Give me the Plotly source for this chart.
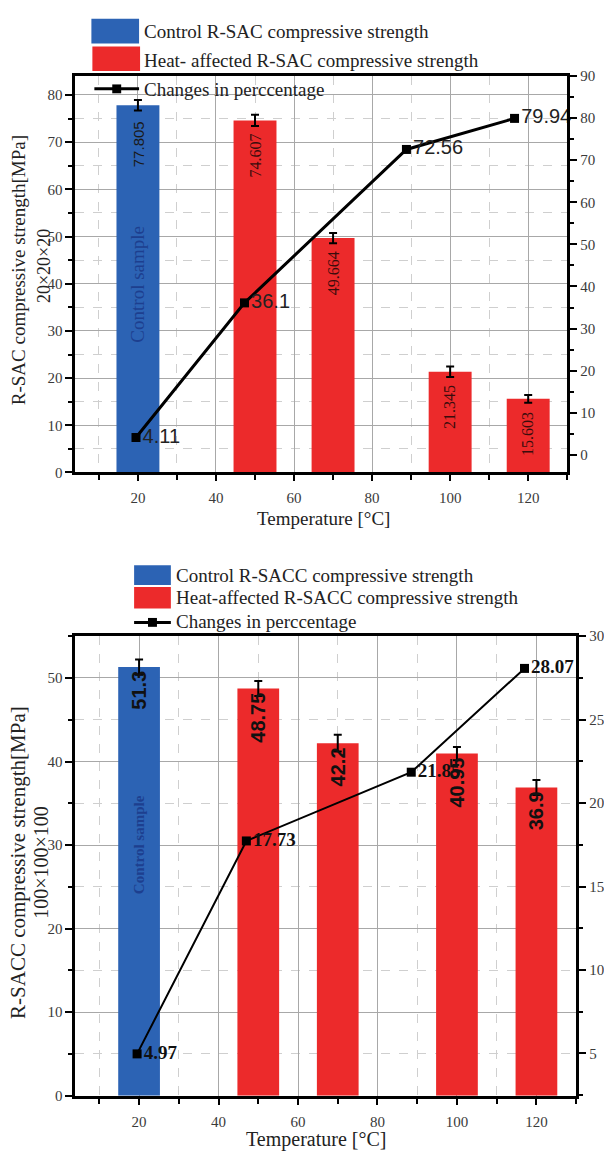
import plotly.graph_objects as go

W, H = 604, 1158

# ---------------- data ----------------
temps = [20, 50, 70, 100, 120]

# top chart (R-SAC, 20x20x20)
sac_strength = [77.805, 74.607, 49.664, 21.345, 15.603]
sac_err = [1.1, 1.2, 1.1, 1.1, 0.8]
sac_labels = ["77.805", "74.607", "49.664", "21.345", "15.603"]
sac_change_x = [19.5, 47.3, 88.8, 116.5]
sac_change = [4.11, 36.1, 72.56, 79.94]
sac_change_labels = ["4.11", "36.1", "72.56", "79.94"]

# bottom chart (R-SACC, 100x100x100)
sacc_strength = [51.3, 48.75, 42.2, 40.95, 36.9]
sacc_err = [0.9, 0.9, 1.0, 0.8, 0.9]
sacc_labels = ["51.3", "48.75", "42.2", "40.95", "36.9"]
sacc_change_x = [19.5, 47.0, 88.5, 117.0]
sacc_change = [4.97, 17.73, 21.85, 28.07]
sacc_change_labels = ["4.97", "17.73", "21.85", "28.07"]

x_tick_vals = [20, 40, 60, 80, 100, 120]

BLUE = "#2c63b4"
RED = "#ec2a2b"
SERIF = "Liberation Serif, Times New Roman, serif"
SANS = "Liberation Sans, Arial, sans-serif"


def px(x):
    return x / W


def py(y):
    return 1 - y / H


fig = go.Figure()

# ---------------- top chart traces ----------------
fig.add_trace(go.Bar(
    x=temps[:1], y=sac_strength[:1], width=11, marker=dict(color=BLUE, line=dict(width=0)),
    error_y=dict(type="data", array=sac_err[:1], color="black", thickness=2, width=4),
    xaxis="x", yaxis="y", showlegend=False, hoverinfo="skip"))
fig.add_trace(go.Bar(
    x=temps[1:], y=sac_strength[1:], width=11, marker=dict(color=RED, line=dict(width=0)),
    error_y=dict(type="data", array=sac_err[1:], color="black", thickness=2, width=4),
    xaxis="x", yaxis="y", showlegend=False, hoverinfo="skip"))
fig.add_trace(go.Scatter(
    x=sac_change_x, y=sac_change, mode="lines+markers+text",
    text=sac_change_labels, textposition="middle right",
    textfont=dict(family=SANS, size=20, color="#222222"),
    line=dict(color="black", width=3),
    marker=dict(symbol="square", size=9, color="black"),
    xaxis="x", yaxis="y2", showlegend=False, cliponaxis=False))

# ---------------- bottom chart traces ----------------
fig.add_trace(go.Bar(
    x=temps[:1], y=sacc_strength[:1], width=10.5, marker=dict(color=BLUE, line=dict(width=0)),
    error_y=dict(type="data", array=sacc_err[:1], color="black", thickness=2, width=4),
    xaxis="x2", yaxis="y3", showlegend=False, hoverinfo="skip"))
fig.add_trace(go.Bar(
    x=temps[1:], y=sacc_strength[1:], width=10.5, marker=dict(color=RED, line=dict(width=0)),
    error_y=dict(type="data", array=sacc_err[1:], color="black", thickness=2, width=4),
    xaxis="x2", yaxis="y3", showlegend=False, hoverinfo="skip"))
fig.add_trace(go.Scatter(
    x=sacc_change_x, y=sacc_change, mode="lines+markers+text",
    text=sacc_change_labels, textposition="middle right",
    textfont=dict(family=SERIF, size=19, color="#111111", weight="bold"),
    line=dict(color="black", width=2),
    marker=dict(symbol="square", size=9, color="black"),
    xaxis="x2", yaxis="y4", showlegend=False, cliponaxis=False))

# ---------------- axes ----------------
tickfont = dict(family=SERIF, size=15, color="#3a3a3a")
GRID = "#a8a8a8"
MINGRID = "#cfcfcf"


def xax(domain, anchor):
    return dict(domain=domain, anchor=anchor, range=[4, 130],
                tickvals=x_tick_vals, ticks="outside", ticklen=6, tickwidth=2,
                tickcolor="black", tickfont=tickfont, ticklabelstandoff=4,
                showgrid=True, gridcolor=GRID, gridwidth=1,
                minor=dict(dtick=10, tick0=0, ticks="outside", ticklen=5, tickwidth=2,
                           tickcolor="black", showgrid=True, gridcolor=MINGRID,
                           griddash="dash", gridwidth=1),
                showline=True, linecolor="black", linewidth=3, mirror=True,
                zeroline=False, fixedrange=True)


def xtop(overlay):
    return dict(overlaying=overlay, side="top", range=[4, 130], tickmode="linear",
                tick0=0, dtick=10, ticks="inside", ticklen=6, tickwidth=2,
                tickcolor="black", showticklabels=False, showgrid=False,
                showline=False, zeroline=False, fixedrange=True)


def yleft(domain, anchor, rng, dtick, minor):
    return dict(domain=domain, anchor=anchor, range=rng, tickmode="linear", tick0=0,
                dtick=dtick, ticks="outside", ticklen=7, tickwidth=2, tickcolor="black",
                tickfont=tickfont, showgrid=True, gridcolor=GRID, gridwidth=1,
                minor=dict(dtick=minor, tick0=0, ticks="outside", ticklen=4, tickwidth=2,
                           tickcolor="black", showgrid=True, gridcolor=MINGRID,
                           griddash="dash", gridwidth=1),
                showline=True, linecolor="black", linewidth=3, mirror=True,
                zeroline=False, fixedrange=True)


def yright(overlay, anchor, rng, dtick, minor):
    return dict(overlaying=overlay, anchor=anchor, side="right", range=rng,
                tickmode="linear", tick0=0, dtick=dtick, ticks="outside", ticklen=7,
                tickwidth=2, tickcolor="black", tickfont=tickfont, showgrid=False,
                minor=dict(dtick=minor, tick0=0, ticks="outside", ticklen=4,
                           tickwidth=2, tickcolor="black", showgrid=False),
                showline=True, linecolor="black", linewidth=3, zeroline=False,
                fixedrange=True)


top_x_dom = [px(76), px(571)]
top_y_dom = [py(471), py(69)]
bot_x_dom = [px(76), px(580)]
bot_y_dom = [py(1103), py(637)]

annotations = []


def ann(text, x, y, size, family=SERIF, color="#222222", angle=0, xanchor="center",
        yanchor="middle", bold=False):
    annotations.append(dict(text=text, x=px(x), y=py(y), xref="paper", yref="paper",
                            showarrow=False, textangle=angle, xanchor=xanchor,
                            yanchor=yanchor,
                            font=dict(family=family, size=size, color=color,
                                      weight="bold" if bold else "normal")))


# axis titles
ann("R-SAC compressive strength[MPa]", 18, 266, 19, angle=-90)
ann("20×20×20", 45, 262, 18, angle=-90)
ann("Temperature [°C]", 326, 518, 19)
ann("R-SACC compressive strength[MPa]", 18, 866, 21, angle=-90)
ann("100×100×100", 41, 866, 20, angle=-90)
ann("Temperature [°C]", 318, 1147, 20)

# legends (drawn)
ann("Control R-SAC compressive strength", 143, 24, 19, xanchor="left")
ann("Heat- affected R-SAC compressive strength", 143, 53, 19, xanchor="left")
ann("Changes in perccentage", 143, 83, 19, xanchor="left")
ann("Control R-SACC compressive strength", 175, 575, 19, xanchor="left")
ann("Heat-affected R-SACC compressive strength", 175, 598, 19, xanchor="left")
ann("Changes in perccentage", 175, 622, 19, xanchor="left")

shapes = [
    dict(type="rect", xref="paper", yref="paper", x0=px(92), x1=px(140), y0=py(36), y1=py(11),
         fillcolor=BLUE, line=dict(width=0)),
    dict(type="rect", xref="paper", yref="paper", x0=px(93), x1=px(141), y0=py(64), y1=py(39),
         fillcolor=RED, line=dict(width=0)),
    dict(type="line", xref="paper", yref="paper", x0=px(95), x1=px(140), y0=py(82), y1=py(82),
         line=dict(color="black", width=3)),
    dict(type="rect", xref="paper", yref="paper", x0=px(113), x1=px(122), y0=py(86.5), y1=py(77.5),
         fillcolor="black", line=dict(width=0)),
    dict(type="rect", xref="paper", yref="paper", x0=px(135), x1=px(172), y0=py(585), y1=py(565),
         fillcolor=BLUE, line=dict(width=0)),
    dict(type="rect", xref="paper", yref="paper", x0=px(135), x1=px(172), y0=py(609), y1=py(587),
         fillcolor=RED, line=dict(width=0)),
    dict(type="line", xref="paper", yref="paper", x0=px(135), x1=px(172), y0=py(623), y1=py(623),
         line=dict(color="black", width=3)),
    dict(type="rect", xref="paper", yref="paper", x0=px(149), x1=px(158), y0=py(627.5), y1=py(618.5),
         fillcolor="black", line=dict(width=0)),
]

# bar value labels (data coordinates)
for i, (t, v, lab) in enumerate(zip(temps, sac_strength, sac_labels)):
    if i == 0:
        f = dict(family=SANS, size=15, color="#1a1a1a")
        shift = -14
    else:
        f = dict(family=SERIF, size=16, color="#3a0c0c")
        shift = -11
    annotations.append(dict(text=lab, x=t, y=v, xref="x", yref="y", showarrow=False,
                            textangle=-90, xanchor="center", yanchor="top", yshift=shift,
                            font=f))
annotations.append(dict(text="Control sample", x=temps[0], y=40, xref="x", yref="y",
                        showarrow=False, textangle=-90,
                        font=dict(family=SERIF, size=19, color="#1d3f8f")))

for t, v, lab in zip(temps, sacc_strength, sacc_labels):
    annotations.append(dict(text=lab, x=t, y=v, xref="x2", yref="y3", showarrow=False,
                            textangle=-90, xanchor="center", yanchor="top", yshift=-2,
                            font=dict(family=SANS, size=20, color="#111111", weight="bold")))
annotations.append(dict(text="Control sample", x=temps[0], y=30, xref="x2", yref="y3",
                        showarrow=False, textangle=-90,
                        font=dict(family=SERIF, size=15, color="#1d3f8f", weight="bold")))

fig.update_layout(
    width=W, height=H, margin=dict(l=0, r=0, t=0, b=0),
    paper_bgcolor="white", plot_bgcolor="white",
    barmode="overlay", showlegend=False,
    xaxis=xax(top_x_dom, "y"),
    yaxis=yleft(top_y_dom, "x", [0, 84], 10, 5),
    yaxis2=yright("y", "x", [-4.2, 90], 10, 5),
    xaxis3=xtop("x"),
    xaxis2=xax(bot_x_dom, "y3"),
    yaxis3=yleft(bot_y_dom, "x2", [0, 55], 10, 5),
    yaxis4=yright("y3", "x2", [2.46, 30], 5, 2.5),
    xaxis4=xtop("x2"),
    annotations=annotations,
    shapes=shapes,
)

fig.write_html("out.html")
